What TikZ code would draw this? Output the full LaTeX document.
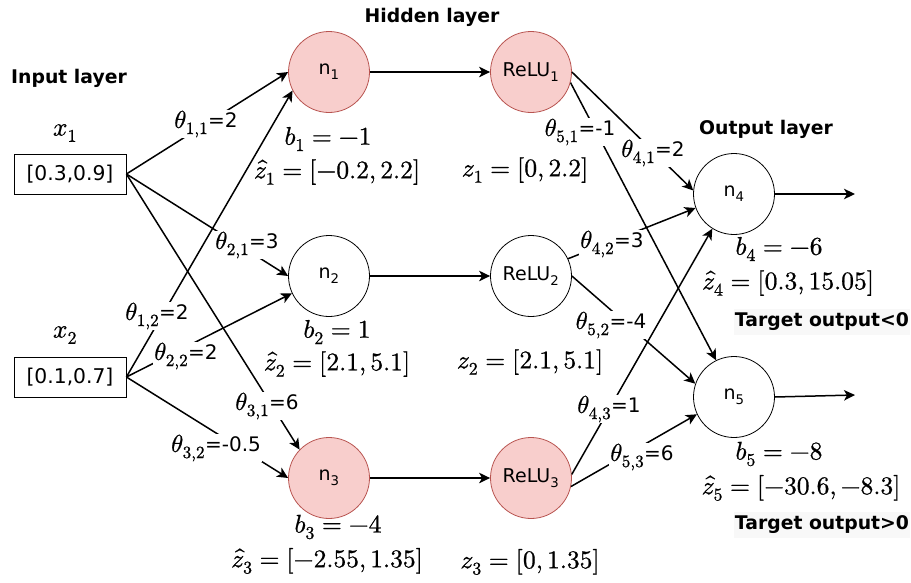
\documentclass[tikz,border=0pt]{standalone}
\usepackage{unicode-math}
\setmathfont{Latin Modern Math}[FakeBold=0.8]
\newfontfamily\dv{DejaVu Sans}
\usetikzlibrary{arrows.meta}
\definecolor{nred}{HTML}{F8CECC}
\definecolor{nredline}{HTML}{B85450}
\definecolor{tgbg}{HTML}{F8F8F8}
\newcommand\thlab[2]{{\fontsize{24.5}{27}\selectfont$\theta_{#1}$}=#2}
\begin{document}
\begin{tikzpicture}[x=1pt,y=-1pt,
  neuron/.style={circle,draw,line width=0.8pt,minimum size=81pt,inner sep=0pt,font=\dv\fontsize{19}{22}\selectfont},
  act/.style={neuron,fill=nred,draw=nredline},
  inbox/.style={draw,line width=0.8pt,minimum width=112pt,minimum height=40pt,inner sep=0pt,font=\dv\fontsize{20.3}{23}\selectfont},
  conn/.style={line width=1.5pt,-{Stealth[length=11pt,width=10.5pt,inset=3pt]}},
  wlab/.style={fill=white,inner sep=1pt,font=\dv\fontsize{20}{23}\selectfont},
  mlab/.style={inner sep=0pt,font=\fontsize{25.5}{28}\selectfont},
  ttl/.style={inner sep=0pt,font=\dv\bfseries\fontsize{18.8}{21}\selectfont},
  tgt/.style={ttl,fill=tgbg,inner xsep=1pt,inner ysep=4pt}
]
\useasboundingbox (0,0) rectangle (911,582);
% nodes
\node[inbox] (x1) at (70,174) {[0.3,0.9]};
\node[inbox] (x2) at (70,377) {[0.1,0.7]};
\node[act] (n1) at (329,72) {n\textsubscript{1}};
\node[neuron] (n2) at (329,276) {n\textsubscript{2}};
\node[act] (n3) at (329,478) {n\textsubscript{3}};
\node[act] (r1) at (531,72) {ReLU\textsubscript{1}};
\node[neuron] (r2) at (531,276) {ReLU\textsubscript{2}};
\node[act] (r3) at (531,478) {ReLU\textsubscript{3}};
\node[neuron] (n4) at (734,194) {n\textsubscript{4}};
\node[neuron] (n5) at (734,397) {n\textsubscript{5}};
\coordinate (o4) at (855,194);
\coordinate (o5) at (855,395);
% connectors
\draw[conn] (x1.east) -- (n1.180);
\draw[conn] (x1.east) -- (n2.180);
\draw[conn] (x1.east) -- (n3.136);
\draw[conn] (x2.east) -- (n1.207);
\draw[conn] (x2.east) -- (n2.205);
\draw[conn] (x2.east) -- (n3.180);
\draw[conn] (n1) -- (r1);
\draw[conn] (n2) -- (r2);
\draw[conn] (n3) -- (r3);
\draw[conn] (r1.0) -- (n4.175);
\draw[conn] (r1.-15) -- (n5.116);
\draw[conn] (r2.25) -- (n4.200);
\draw[conn] (r2.0) -- (n5.161);
\draw[conn] (r3.5) -- (n4.238);
\draw[conn] (r3.-12) -- (n5.205);
\draw[conn] (n4.east) -- (o4);
\draw[conn] (n5.east) -- (o5);
% weight labels
\node[wlab] (w11) at (206,124) {\thlab{1,1}{2}};
\node[wlab] (w21) at (247,245) {\thlab{2,1}{3}};
\node[wlab] (w31) at (267,406) {\thlab{3,1}{6}};
\node[wlab] (w12) at (157,316) {\thlab{1,2}{2}};
\node[wlab] (w22) at (186,356) {\thlab{2,2}{2}};
\node[wlab] (w32) at (216,448) {\thlab{3,2}{-0.5}};
\node[wlab] (w51) at (580,132) {\thlab{5,1}{-1}};
\node[wlab] (w41) at (653,153) {\thlab{4,1}{2}};
\node[wlab] (w42) at (612,244) {\thlab{4,2}{3}};
\node[wlab] (w52) at (611,325) {\thlab{5,2}{-4}};
\node[wlab] (w43) at (609,409) {\thlab{4,3}{1}};
\node[wlab] (w53) at (642,457) {\thlab{5,3}{6}};
% math labels
\node[mlab] (lx1) at (65,133) {$x_1$};
\node[mlab] (lx2) at (65,335) {$x_2$};
\node[mlab] (b1) at (328,139) {$b_1=-1$};
\node[mlab] (zh1) at (337,172) {$\hat{z}_1=[-0.2,2.2]$};
\node[mlab] (b2) at (337,332) {$b_2=1$};
\node[mlab] (zh2) at (337,364) {$\hat{z}_2=[2.1,5.1]$};
\node[mlab] (b3) at (338,527) {$b_3=-4$};
\node[mlab] (zh3) at (327,561) {$\hat{z}_3=[-2.55,1.35]$};
\node[mlab] (z1) at (525,170) {$z_1=[0,2.2]$};
\node[mlab] (z2) at (530,362) {$z_2=[2.1,5.1]$};
\node[mlab] (z3) at (530,562) {$z_3=[0,1.35]$};
\node[mlab] (b4) at (779,249) {$b_4=-6$};
\node[mlab] (zh4) at (788,283) {$\hat{z}_4=[0.3,15.05]$};
\node[mlab] (b5) at (779,454) {$b_5=-8$};
\node[mlab] (zh5) at (801,488) {$\hat{z}_5=[-30.6,-8.3]$};
% titles
\node[ttl] (tin) at (69,78) {Input layer};
\node[ttl] (thid) at (432,17) {Hidden layer};
\node[ttl] (tout) at (766,129) {Output layer};
\node[tgt] (tg1) at (822,322) {Target output<0};
\node[tgt] (tg2) at (822,525) {Target output>0};
\end{tikzpicture}
\end{document}
